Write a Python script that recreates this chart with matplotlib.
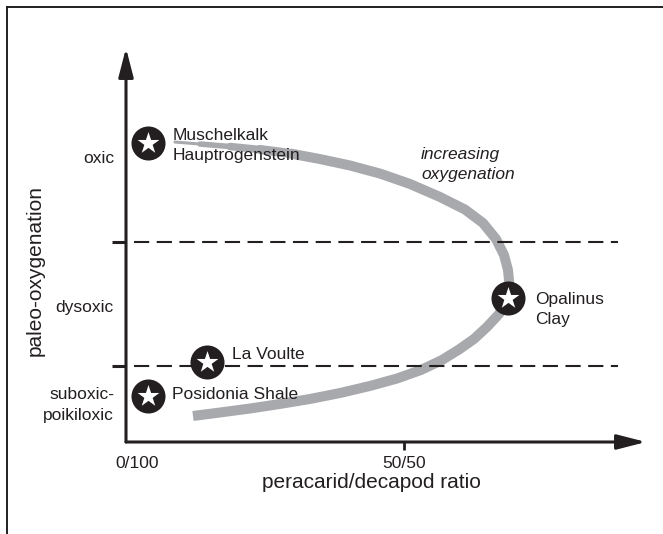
import matplotlib
matplotlib.use("Agg")
import matplotlib.pyplot as plt
from matplotlib.lines import Line2D
from matplotlib.collections import LineCollection

plt.rcParams['font.family'] = ['Liberation Sans', 'DejaVu Sans']

# ---------------- data ----------------
zones = ['oxic', 'dysoxic', 'suboxic-\npoikiloxic']
zone_label_y = [2.67, 1.47, 0.685]
zone_boundaries = [1.0, 2.0]

x_tick_values = [50]
x_tick_labels = ['50/50']
origin_label = '0/100'

sites = ['Muschelkalk\nHauptrogenstein', 'La Voulte', 'Posidonia Shale', 'Opalinus\nClay']
site_ratio = [4.0, 14.6, 4.0, 68.7]
site_oxygen = [2.80, 1.03, 0.76, 1.55]

# trend curve, from low oxygenation (bottom) to high (top, tapered tip)
curve_ratio = [12.05, 16.91, 22.30, 27.70, 33.09, 38.49, 43.88, 48.74, 53.06, 56.83,
               59.89, 62.59, 64.93, 67.09, 68.53, 68.97, 68.71, 67.99, 66.55, 64.21,
               60.97, 56.47, 51.08, 45.68, 40.29, 34.89, 29.50, 24.10, 18.71, 13.31, 8.81]
curve_oxygen = [0.597, 0.625, 0.657, 0.694, 0.734, 0.782, 0.839, 0.899, 0.968, 1.048,
                1.133, 1.218, 1.315, 1.419, 1.532, 1.653, 1.774, 1.895, 2.024, 2.153,
                2.262, 2.363, 2.468, 2.552, 2.617, 2.669, 2.714, 2.746, 2.770, 2.790, 2.806]

trend_label = 'increasing\noxygenation'
x_label = 'peracarid/decapod ratio'
y_label = 'paleo-oxygenation'

# ---------------- style ----------------
INK = '#231f20'
GREY = '#a7a9ac'
W, H = 663, 534
FS = 12.5
LS = 1.45

fig = plt.figure(figsize=(W / 100, H / 100), dpi=100)
ax = fig.add_axes([126 / W, (H - 442) / H, (646 - 126) / W, (442 - 48) / H])
ax.set_xlim(0, 93.53)
ax.set_ylim(0.3871, 3.5645)
ax.patch.set_visible(False)
for s in ax.spines.values():
    s.set_visible(False)

# frame around the figure (top and left only)
fig.add_artist(Line2D([7 / W, 1], [1 - 7 / H, 1 - 7 / H], transform=fig.transFigure,
                      color=INK, lw=1.4))
fig.add_artist(Line2D([7 / W, 7 / W], [0, 1 - 7 / H], transform=fig.transFigure,
                      color=INK, lw=1.4))

# axes with arrows
arrow_style = '-|>,head_length=1.75,head_width=0.45'
ax.annotate('', xy=(1, 0), xytext=(0, 0), xycoords='axes fraction',
            arrowprops=dict(arrowstyle=arrow_style, mutation_scale=10, lw=2.2,
                            color=INK, shrinkA=0, shrinkB=0))
ax.annotate('', xy=(0, 1), xytext=(0, 0), xycoords='axes fraction',
            arrowprops=dict(arrowstyle=arrow_style, mutation_scale=10, lw=2.2,
                            color=INK, shrinkA=0, shrinkB=0))

# ticks
ax.set_yticks(zone_boundaries)
ax.set_yticklabels([])
ax.tick_params(axis='y', length=10, width=2.2, color=INK, direction='out')
ax.set_xticks(x_tick_values)
ax.set_xticklabels(x_tick_labels, fontsize=FS, color=INK)
ax.tick_params(axis='x', length=5.8, width=2.0, color=INK, direction='out', pad=4)
ax.text(2.0, 0.215, origin_label, ha='center', va='center', fontsize=FS, color=INK)

# zone boundaries
ax.hlines(zone_boundaries, 1.44, 88.5, colors=INK, lw=1.5, linestyles=(0, (7.3, 3.6)),
          zorder=3)

# zone labels
for name, yv in zip(zones, zone_label_y):
    ax.text(-2.16, yv, name, ha='right', va='center', fontsize=FS, color=INK,
            linespacing=LS)

# trend curve (main body + tapered tip)
n_tip = 4
ax.plot(curve_ratio[:len(curve_ratio) - n_tip], curve_oxygen[:len(curve_oxygen) - n_tip],
        color=GREY, lw=7.2, solid_capstyle='butt', solid_joinstyle='round', zorder=2)
tip_pts = list(zip(curve_ratio[-n_tip - 1:], curve_oxygen[-n_tip - 1:]))
tip_segs = [[tip_pts[i], tip_pts[i + 1]] for i in range(n_tip)]
ax.add_collection(LineCollection(tip_segs, colors=GREY,
                                 linewidths=[6.6, 5.4, 4.0, 2.2],
                                 capstyle='round', zorder=2))

# sites
ax.scatter(site_ratio, site_oxygen, s=24.5 ** 2, marker='o', color=INK, zorder=4,
           clip_on=False, linewidths=0)
ax.scatter(site_ratio, site_oxygen, s=16.5 ** 2, marker='*', color='white', zorder=5,
           clip_on=False, linewidths=0)

offsets = [(24, 3), (25, -8), (24, -1), (27, 12)]
for name, xv, yv, off in zip(sites, site_ratio, site_oxygen, offsets):
    ax.annotate(name, (xv, yv), xytext=(off[0], -off[1]), textcoords='offset pixels',
                ha='left', va='center', fontsize=FS, color=INK, linespacing=LS,
                zorder=6)

ax.text(53.05, 2.625, trend_label, ha='left', va='center', fontsize=FS, color=INK,
        style='italic', linespacing=LS)

fig.text(371 / W, 1 - 483 / H, x_label, ha='center', va='center', fontsize=15, color=INK)
fig.text(35 / W, 1 - 271 / H, y_label, ha='center', va='center', fontsize=15, color=INK,
         rotation=90)

fig.savefig('out.png', dpi=100)
